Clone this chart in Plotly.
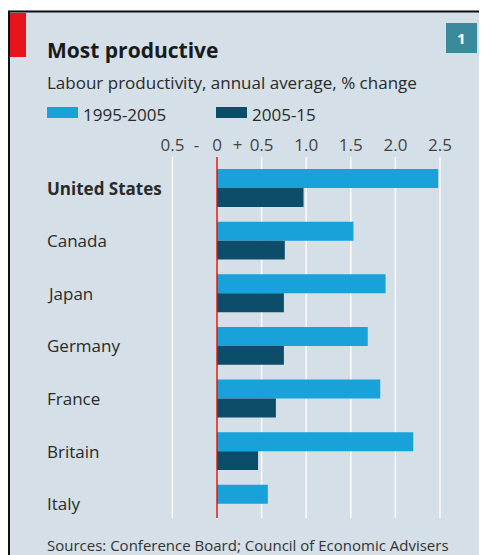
import plotly.graph_objects as go

countries = ["United States", "Canada", "Japan", "Germany", "France", "Britain", "Italy"]
p1995_2005 = [2.48, 1.53, 1.89, 1.69, 1.83, 2.20, 0.57]
p2005_15 = [0.97, 0.76, 0.75, 0.75, 0.66, 0.46, 0.0]
grid_vals = [-0.5, 0, 0.5, 1.0, 1.5, 2.0, 2.5]
tick_vals = [-0.5, -0.23, 0, 0.23, 0.5, 1.0, 1.5, 2.0, 2.5]
tick_text = ["0.5", "-", "0", "+", "0.5", "1.0", "1.5", "2.0", "2.5"]

OFF = 8  # page offset of the figure (body margin)
W, H = 487 - OFF, 555 - OFF
# plot area in page pixels
PL, PR, PT, PB = 160, 475, 157, 518
L, R, T, B = PL - OFF, W - (PR - OFF), PT - OFF, H - (PB - OFF)
PW, PH = W - L - R, H - T - B
FONT = "Open Sans"
BG = "#d4dfe7"
LIGHT = "#19a2da"
DARK = "#0c4e69"
ZERO_PX, UNIT_PX = 217, 89.2

def px(x):
    return (x - OFF - L) / PW

def py(y):
    return (H - B - (y - OFF)) / PH

fig = go.Figure()
fig.add_trace(go.Bar(y=countries, x=p1995_2005, orientation="h", name="1995-2005",
                     marker=dict(color=LIGHT, line=dict(width=0))))
fig.add_trace(go.Bar(y=countries, x=p2005_15, orientation="h", name="2005-15",
                     marker=dict(color=DARK, line=dict(width=0))))

shapes = []
for g in grid_vals:
    shapes.append(dict(type="line", xref="x", yref="paper", x0=g, x1=g, y0=0, y1=1,
                       line=dict(color="rgba(255,255,255,0.9)", width=1.5), layer="below"))
# white strip and black border
shapes.append(dict(type="rect", xref="paper", yref="paper", x0=px(0), x1=px(488), y0=py(0), y1=py(10.5),
                   fillcolor="white", line=dict(width=0), layer="above"))
shapes.append(dict(type="line", xref="paper", yref="paper", x0=px(8), x1=px(488), y0=py(11.5), y1=py(11.5),
                   line=dict(color="#111", width=2), layer="above"))
shapes.append(dict(type="line", xref="paper", yref="paper", x0=px(9), x1=px(9), y0=py(11), y1=py(556),
                   line=dict(color="#111", width=2), layer="above"))
# red tag
shapes.append(dict(type="rect", xref="paper", yref="paper", x0=px(10), x1=px(26), y0=py(13), y1=py(57),
                   fillcolor="#e8141b", line=dict(width=0), layer="above"))
# number box
shapes.append(dict(type="rect", xref="paper", yref="paper", x0=px(446), x1=px(477), y0=py(23), y1=py(53),
                   fillcolor="#3b8a9c", line=dict(width=0), layer="above"))
# legend keys
shapes.append(dict(type="rect", xref="paper", yref="paper", x0=px(47), x1=px(78), y0=py(107), y1=py(118),
                   fillcolor=LIGHT, line=dict(width=0), layer="above"))
shapes.append(dict(type="rect", xref="paper", yref="paper", x0=px(216), x1=px(247), y0=py(107), y1=py(118),
                   fillcolor=DARK, line=dict(width=0), layer="above"))
# zero line
shapes.append(dict(type="line", xref="x", yref="paper", x0=0, x1=0, y0=0, y1=1,
                   line=dict(color="#e3120b", width=1.5), layer="above"))

ann = []
ann.append(dict(text="<b>Most productive</b>", x=px(45), y=py(50), xref="paper", yref="paper",
                xanchor="left", yanchor="middle", showarrow=False,
                font=dict(family=FONT, size=21, color="#1a1a1a")))
ann.append(dict(text="Labour productivity, annual average, % change", x=px(45), y=py(82), xref="paper", yref="paper",
                xanchor="left", yanchor="middle", showarrow=False,
                font=dict(family=FONT, size=17, color="#2a2a2a")))
ann.append(dict(text="<b>1</b>", x=px(461.5), y=py(38), xref="paper", yref="paper",
                xanchor="center", yanchor="middle", showarrow=False,
                font=dict(family=FONT, size=15, color="white")))
ann.append(dict(text="1995-2005", x=px(81), y=py(114), xref="paper", yref="paper",
                xanchor="left", yanchor="middle", showarrow=False,
                font=dict(family=FONT, size=17, color="#2a2a2a")))
ann.append(dict(text="2005-15", x=px(250), y=py(114), xref="paper", yref="paper",
                xanchor="left", yanchor="middle", showarrow=False,
                font=dict(family=FONT, size=17, color="#2a2a2a")))
for c in countries:
    txt = "<b>%s</b>" % c if c == "United States" else c
    ann.append(dict(text=txt, x=px(45), y=c, xref="paper", yref="y",
                    xanchor="left", yanchor="middle", showarrow=False,
                    font=dict(family=FONT, size=17, color="#2a2a2a")))
ann.append(dict(text="Sources: Conference Board; Council of Economic Advisers", x=px(45), y=py(545),
                xref="paper", yref="paper", xanchor="left", yanchor="middle", showarrow=False,
                font=dict(family=FONT, size=15, color="#333")))

fig.update_layout(
    width=W, height=H,
    margin=dict(l=L, r=R, t=T, b=B, autoexpand=False),
    paper_bgcolor=BG, plot_bgcolor=BG,
    barmode="group", bargap=0.28, bargroupgap=0,
    showlegend=False,
    shapes=shapes, annotations=ann,
    xaxis=dict(range=[(PL - ZERO_PX) / UNIT_PX, (PR - ZERO_PX) / UNIT_PX], side="top",
               tickvals=tick_vals, ticktext=tick_text, ticks="",
               showgrid=False, zeroline=False, showline=False,
               ticklabelstandoff=2,
               tickfont=dict(family=FONT, size=17, color="#444")),
    yaxis=dict(range=[6.27, -0.59], showticklabels=False, showgrid=False,
               zeroline=False, showline=False, ticks=""),
)

fig.write_html("out.html")
